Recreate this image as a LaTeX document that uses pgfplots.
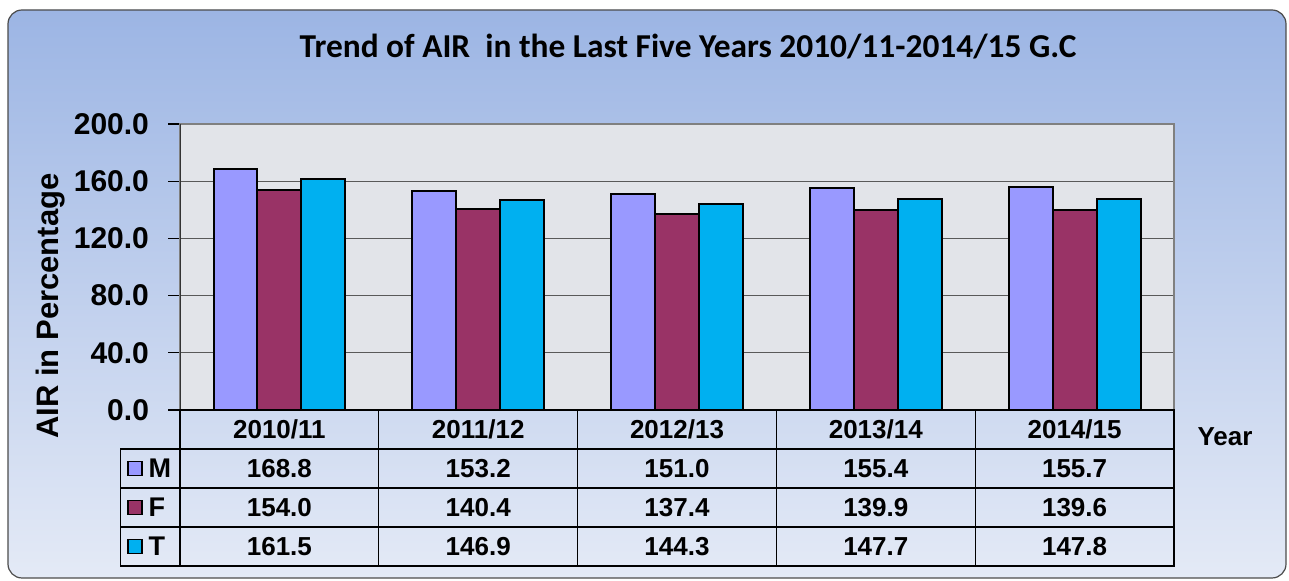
\documentclass[border=0pt]{standalone}
\usepackage{fontspec}
\setmainfont{Liberation Sans}
\newfontfamily\calibri{Carlito}
\usepackage{pgfplots}
\usepackage{pgfplotstable}
\pgfplotsset{compat=1.18}
\definecolor{cM}{RGB}{153,153,255}
\definecolor{cF}{RGB}{153,51,102}
\definecolor{cT}{RGB}{0,176,240}
\definecolor{bgtop}{RGB}{156,181,228}
\definecolor{bgbot}{RGB}{228,234,246}
\definecolor{plotbg}{RGB}{226,228,233}
\pgfplotstableread{
x cat M F T
0 2010/11 168.8 154.0 161.5
1 2011/12 153.2 140.4 146.9
2 2012/13 151.0 137.4 144.3
3 2013/14 155.4 139.9 147.7
4 2014/15 155.7 139.6 147.8
}\airdata
\begin{document}
\begin{tikzpicture}
\path[use as bounding box] (0,0) rectangle (644.5pt,290.5pt);
\shade[rounded corners=7pt, top color=bgtop, bottom color=bgbot] (4pt,1.5pt) rectangle (643pt,285.5pt);
\draw[rounded corners=7pt, black!70, line width=0.6pt] (4pt,1.5pt) rectangle (643pt,285.5pt);
\node[font=\calibri\bfseries\fontsize{16.7}{18}\selectfont] at (344pt,267pt) {Trend of AIR\ \ in the Last Five Years 2010/11-2014/15 G.C};
\node[font=\bfseries\fontsize{15.5}{17}\selectfont, rotate=90] at (25.5pt,137.5pt) {AIR in Percentage};
\node[font=\bfseries\fontsize{13}{14}\selectfont] at (612.5pt,72pt) {Year};
\begin{axis}[
  at={(90pt,85.5pt)}, anchor=south west,
  scale only axis, width=497pt, height=143pt,
  ymin=0, ymax=200, ytick={0,40,...,200},
  xmin=-0.5, xmax=4.5, xtick=\empty,
  ybar=0pt, bar width=0.221,
  ymajorgrids, grid style={black!65, line width=0.5pt},
  axis background/.style={fill=plotbg},
  axis line style={black!50, line width=0.8pt},
  tick style={black, line width=0.6pt}, major tick length=6pt, tick align=outside, ytick pos=left,
  /pgf/number format/assume math mode=true,
  yticklabel style={font=\bfseries\fontsize{15}{16}\selectfont, xshift=-6pt, /pgf/number format/.cd, fixed, fixed zerofill, precision=1},
]
\addplot[fill=cM, draw=black, line width=1pt] table[x=x, y=M] {\airdata};
\addplot[fill=cF, draw=black, line width=1pt] table[x=x, y=F] {\airdata};
\addplot[fill=cT, draw=black, line width=1pt] table[x=x, y=T] {\airdata};
\draw[black!80, line width=0.8pt] (axis cs:-0.5,0) -- (axis cs:-0.5,200);
\end{axis}
\begin{axis}[
  at={(90pt,7.5pt)}, anchor=south west,
  scale only axis, width=497pt, height=78pt,
  xmin=-0.5, xmax=4.5, ymin=0, ymax=4,
  xtick={0.5,1.5,2.5,3.5}, ytick={1,2,3}, xticklabels={}, yticklabels={},
  major tick length=0pt,
  grid=major, grid style={black, line width=0.6pt},
  axis line style={black, line width=0.6pt},
  clip=false,
  /pgf/number format/assume math mode=true,
  nodes near coords style={font=\bfseries\fontsize{13}{14}\selectfont, anchor=center, inner sep=0pt},
]
\addplot[draw=none, nodes near coords, point meta=explicit symbolic] table[x=x, y expr=3.5, meta=cat] {\airdata};
\addplot[draw=none, nodes near coords={\pgfmathprintnumber[fixed,fixed zerofill,precision=1]{\pgfplotspointmeta}}, point meta=explicit] table[x=x, y expr=2.5, meta=M] {\airdata};
\addplot[draw=none, nodes near coords={\pgfmathprintnumber[fixed,fixed zerofill,precision=1]{\pgfplotspointmeta}}, point meta=explicit] table[x=x, y expr=1.5, meta=F] {\airdata};
\addplot[draw=none, nodes near coords={\pgfmathprintnumber[fixed,fixed zerofill,precision=1]{\pgfplotspointmeta}}, point meta=explicit] table[x=x, y expr=0.5, meta=T] {\airdata};
\draw[black, line width=0.6pt] (axis cs:-0.8,0) rectangle (axis cs:-0.5,3);
\draw[black, line width=0.6pt] (axis cs:-0.8,1) -- (axis cs:-0.5,1);
\draw[black, line width=0.6pt] (axis cs:-0.8,2) -- (axis cs:-0.5,2);
\node[draw=black, line width=0.8pt, fill=cM, minimum size=7pt, inner sep=0pt] at (axis cs:-0.726,2.5) {};
\node[draw=black, line width=0.8pt, fill=cF, minimum size=7pt, inner sep=0pt] at (axis cs:-0.726,1.5) {};
\node[draw=black, line width=0.8pt, fill=cT, minimum size=7pt, inner sep=0pt] at (axis cs:-0.726,0.5) {};
\node[anchor=west, inner sep=0pt, font=\bfseries\fontsize{13.5}{14}\selectfont] at (axis cs:-0.66,2.5) {M};
\node[anchor=west, inner sep=0pt, font=\bfseries\fontsize{13.5}{14}\selectfont] at (axis cs:-0.66,1.5) {F};
\node[anchor=west, inner sep=0pt, font=\bfseries\fontsize{13.5}{14}\selectfont] at (axis cs:-0.66,0.5) {T};
\end{axis}
\end{tikzpicture}
\end{document}
